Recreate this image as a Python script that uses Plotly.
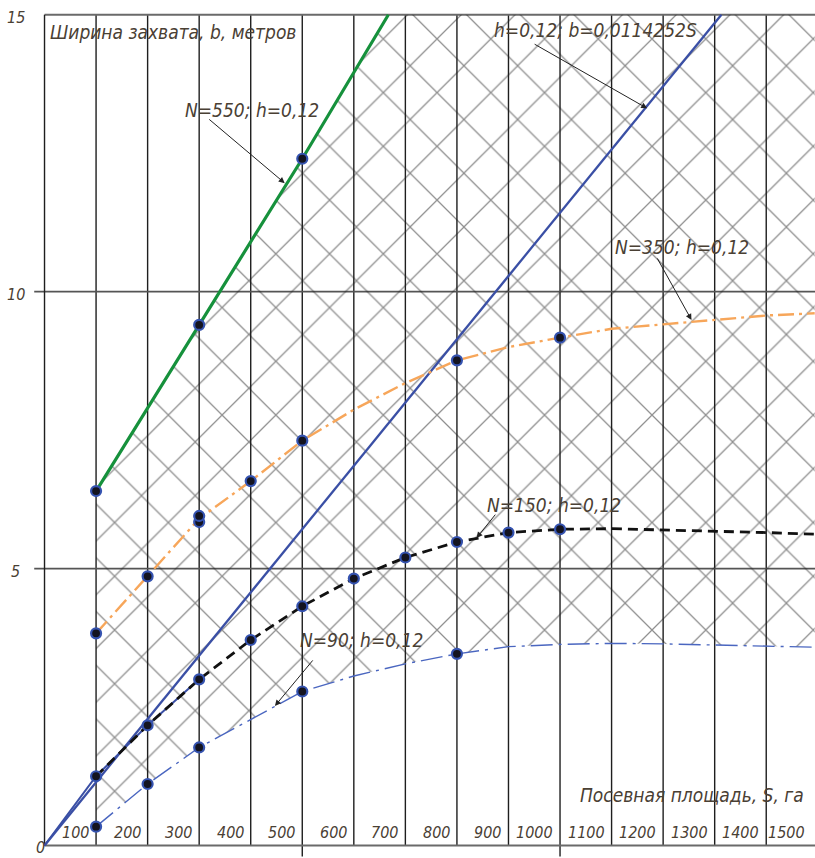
import plotly.graph_objects as go

# ---- data: working width b (m) versus sown area S (ha), h = 0.12 ----
S_grid = [100, 200, 300, 400, 500, 600, 700, 800, 900, 1000, 1100, 1200, 1300, 1400]
x_tick_vals = [100, 200, 300, 400, 500, 600, 700, 800, 900, 1000, 1100, 1200, 1300, 1400, 1500]
x_tick_text = ["100", "200", "300", "400", "500", "600", "700", "800", "900", "1000",
               "1100", "1200", "1300", "1400", "1500"]
y_tick_vals = [5, 10, 15]

# N = 550
S550_line = [100, 200, 300, 400, 500, 667]
b550_line = [6.4, 7.9, 9.4, 10.9, 12.4, 15.0]
S550_pts = [100, 300, 500]
b550_pts = [6.4, 9.4, 12.4]

# N = 350
S350_line = [100, 200, 300, 400, 500, 600, 700, 800, 900, 1000, 1100, 1200, 1300, 1400, 1494]
b350_line = [3.83, 4.86, 5.9, 6.58, 7.31, 7.87, 8.35, 8.76, 9.0, 9.17, 9.33, 9.41, 9.49, 9.57, 9.61]
S350_pts = [100, 200, 300, 300, 400, 500, 800, 1000]
b350_pts = [3.83, 4.86, 5.84, 5.95, 6.58, 7.31, 8.76, 9.17]

# N = 150
S150_line = [100, 200, 300, 400, 500, 600, 700, 800, 900, 1000, 1100, 1200, 1300, 1400, 1494]
b150_line = [1.25, 2.17, 3.0, 3.71, 4.32, 4.82, 5.20, 5.48, 5.65, 5.71, 5.72, 5.70, 5.68, 5.65, 5.62]
S150_pts = [100, 200, 300, 400, 500, 600, 700, 800, 900, 1000]
b150_pts = [1.25, 2.17, 3.0, 3.71, 4.32, 4.82, 5.20, 5.48, 5.65, 5.71]
S150_start = [0, 100, 200, 300]
b150_start = [0, 1.25, 2.17, 3.0]

# N = 90
S90_line = [100, 200, 300, 400, 500, 600, 700, 800, 900, 1000, 1100, 1200, 1300, 1400, 1494]
b90_line = [0.34, 1.11, 1.77, 2.28, 2.78, 3.06, 3.28, 3.46, 3.59, 3.63, 3.65, 3.64, 3.62, 3.60, 3.58]
S90_pts = [100, 200, 300, 500, 800]
b90_pts = [0.34, 1.11, 1.77, 2.78, 3.46]

# straight line b = 0.0114252 * S
k_lin = 0.0114252
S_lin = [0, 1313]
b_lin = [k_lin * s for s in S_lin]

X_MIN, X_MAX = -20.4, 1494.6
Y_MIN, Y_MAX = -0.226, 15.05
B_TOP = 15
PX_PER_HA = 781 / (X_MAX - X_MIN)

TXT = "#4a4034"
FONT = "DejaVu Sans Condensed, Liberation Sans Narrow, sans-serif"

fig = go.Figure()

# hatched working zone between N=90 and N=550 (closed at the top edge)
hatch_S = S90_line + [S90_line[-1], S550_line[-1]] + S550_line[::-1]
hatch_b = b90_line + [B_TOP, B_TOP] + b550_line[::-1]
fig.add_trace(go.Scatter(
    x=hatch_S, y=hatch_b, mode="lines", fill="toself",
    line=dict(width=0, color="rgba(0,0,0,0)"),
    fillcolor="rgba(0,0,0,0)",
    fillpattern=dict(shape="x", size=38, solidity=0.065,
                     fgcolor="#1e1e1e", bgcolor="rgba(0,0,0,0)"),
    hoverinfo="skip", showlegend=False))

# curves
fig.add_trace(go.Scatter(x=S90_line, y=b90_line, mode="lines",
                         line=dict(color="#4a66c0", width=1.4, dash="22px,6px,3px,6px"),
                         showlegend=False))
fig.add_trace(go.Scatter(x=S150_start, y=b150_start, mode="lines",
                         line=dict(color="#3a4fa5", width=2), showlegend=False))
fig.add_trace(go.Scatter(x=S_lin, y=b_lin, mode="lines",
                         line=dict(color="#3a4fa5", width=2.3), showlegend=False))
fig.add_trace(go.Scatter(x=S150_line, y=b150_line, mode="lines",
                         line=dict(color="#111111", width=2.8, dash="10px,6px"),
                         showlegend=False))
fig.add_trace(go.Scatter(x=S350_line, y=b350_line, mode="lines",
                         line=dict(color="#f7a65a", width=2.4, dash="16px,5px,3px,5px"),
                         showlegend=False))
fig.add_trace(go.Scatter(x=S550_line, y=b550_line, mode="lines",
                         line=dict(color="#16913c", width=3.2), showlegend=False))

# measured points
marker = dict(size=10, color="#141420", line=dict(color="#3553b0", width=2.2))
for xs, ys in [(S90_pts, b90_pts), (S150_pts, b150_pts), (S350_pts, b350_pts),
               (S550_pts, b550_pts)]:
    fig.add_trace(go.Scatter(x=xs, y=ys, mode="markers", marker=marker,
                             showlegend=False, cliponaxis=False))

# grid and frame
shapes = []
for s in S_grid:
    y0 = -0.2 if s in (500, 1000) else 0
    shapes.append(dict(type="line", xref="x", yref="y", x0=s, x1=s, y0=y0, y1=B_TOP,
                       line=dict(color="#1e1e1e", width=1.4), layer="below"))
for v in [5, 10]:
    shapes.append(dict(type="line", xref="x", yref="y", x0=-20, x1=X_MAX, y0=v, y1=v,
                       line=dict(color="#555555", width=1.6), layer="below"))
shapes.append(dict(type="line", xref="x", yref="y", x0=0, x1=X_MAX, y0=B_TOP, y1=B_TOP,
                   line=dict(color="#6a6a6a", width=2), layer="below"))
shapes.append(dict(type="line", xref="x", yref="y", x0=0, x1=X_MAX, y0=0, y1=0,
                   line=dict(color="#6a6a6a", width=2), layer="below"))
shapes.append(dict(type="line", xref="x", yref="y", x0=0, x1=0, y0=0, y1=B_TOP,
                   line=dict(color="#1e1e1e", width=1.4), layer="below"))

annotations = []
tick_font = dict(family=FONT, size=16, color=TXT, style="italic")
for v, t in zip(x_tick_vals, x_tick_text):
    xa, shift = v, -5
    if v > X_MAX:
        xa, shift = X_MAX, -5 - (v - X_MAX) * PX_PER_HA
    annotations.append(dict(x=xa, y=0.24, xref="x", yref="y", text=t, showarrow=False,
                            xanchor="right", yanchor="middle", xshift=shift, font=tick_font))
for v in y_tick_vals:
    annotations.append(dict(x=0, y=v, xref="x", yref="y", text=str(v), showarrow=False,
                            xanchor="center", yanchor="middle", xshift=-29, yshift=-3,
                            font=tick_font))
annotations.append(dict(x=0, y=0, xref="x", yref="y", text="0", showarrow=False,
                        xanchor="center", yanchor="middle", xshift=-4, yshift=-2,
                        font=tick_font))

label_font = dict(family=FONT, size=19, color=TXT, style="italic")
labels = [
    (6.8, 14.68, "Ширина захвата, b, метров"),
    (268.7, 13.28, "N=550; h=0,12"),
    (868, 14.72, "h=0,12; b=0,0114252S"),
    (1103, 10.8, "N=350; h=0,12"),
    (854, 6.15, "N=150; h=0,12"),
    (492, 3.71, "N=90; h=0,12"),
    (1035, 0.91, "Посевная площадь, S, га"),
]
for lx, ly, lt in labels:
    annotations.append(dict(x=lx, y=ly, xref="x", yref="y", text=lt, showarrow=False,
                            xanchor="left", yanchor="middle", font=label_font))

# leader arrows from labels to curves (tip in data units, tail offset in px)
leaders = [
    (466, 11.96, -77, -65),
    (1169, 13.31, -114, -65),
    (1255, 9.49, -35, -63),
    (838, 5.55, 20, -25),
    (447, 2.52, 39, -47),
]
for tx, ty, ax, ay in leaders:
    annotations.append(dict(x=tx, y=ty, xref="x", yref="y", text="", showarrow=True,
                            ax=ax, ay=ay, arrowhead=2, arrowsize=1.2, arrowwidth=1,
                            arrowcolor="#222222"))

fig.update_layout(
    width=815, height=858,
    margin=dict(l=34, r=0, t=12, b=0),
    paper_bgcolor="white", plot_bgcolor="white",
    xaxis=dict(range=[X_MIN, X_MAX], visible=False, fixedrange=True),
    yaxis=dict(range=[Y_MIN, Y_MAX], visible=False, fixedrange=True),
    shapes=shapes, annotations=annotations, showlegend=False,
)

fig.write_html("out.html")
